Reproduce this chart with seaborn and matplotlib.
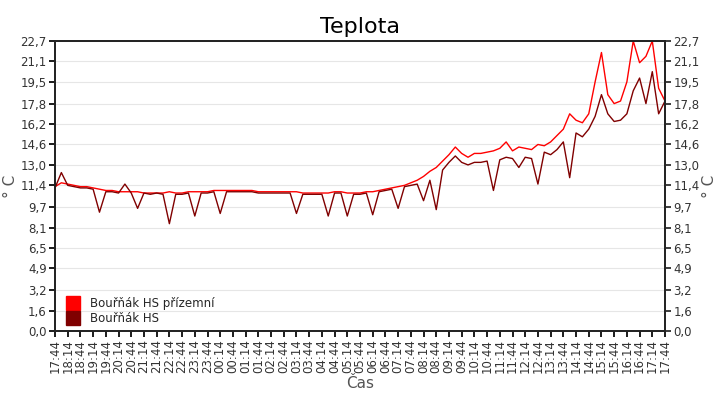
import numpy as np
import pandas as pd
import seaborn as sns
from matplotlib import pyplot as plt
from matplotlib.lines import Line2D

sns.set_theme(style='white', rc={'font.family': 'DejaVu Sans'})

# 15 minute samples starting 17:44
prizemni = [11.3, 11.6, 11.5, 11.4, 11.3,
            11.3, 11.2, 11.1, 11.0, 11.0, 10.9, 10.9,
            10.9, 10.9, 10.8, 10.8, 10.8, 10.8, 10.9, 10.8,
            10.8, 10.9, 10.9, 10.9, 10.9, 11.0, 11.0, 11.0,
            11.0, 11.0, 11.0, 11.0, 10.9, 10.9, 10.9, 10.9,
            10.9, 10.9, 10.9, 10.8, 10.8, 10.8, 10.8, 10.8,
            10.9, 10.9, 10.8, 10.8, 10.8, 10.9, 10.9, 11.0,
            11.1, 11.2, 11.3, 11.4, 11.6, 11.8, 12.1, 12.5,
            12.8, 13.3, 13.8, 14.4, 13.9, 13.6, 13.9, 13.9,
            14.0, 14.1, 14.3, 14.8, 14.1, 14.4, 14.3, 14.2,
            14.6, 14.5, 14.8, 15.3, 15.8, 17.0, 16.5, 16.3,
            17.0, 19.5, 21.8, 18.5, 17.8, 18.0, 19.5, 22.7,
            21.0, 21.5, 22.7, 19.0, 18.0]
hs = [11.2, 12.4, 11.4, 11.3, 11.2,
      11.2, 11.1, 9.3, 10.9, 10.9, 10.8, 11.5,
      10.8, 9.6, 10.8, 10.7, 10.8, 10.7, 8.4, 10.7,
      10.7, 10.8, 9.0, 10.8, 10.8, 10.9, 9.2, 10.9,
      10.9, 10.9, 10.9, 10.9, 10.8, 10.8, 10.8, 10.8,
      10.8, 10.8, 9.2, 10.7, 10.7, 10.7, 10.7, 9.0,
      10.8, 10.8, 9.0, 10.7, 10.7, 10.8, 9.1, 10.9,
      11.0, 11.1, 9.6, 11.3, 11.4, 11.5, 10.2, 11.8,
      9.5, 12.6, 13.2, 13.7, 13.2, 13.0, 13.2, 13.2,
      13.3, 11.0, 13.4, 13.6, 13.5, 12.8, 13.6, 13.5,
      11.5, 14.0, 13.8, 14.2, 14.8, 12.0, 15.5, 15.2,
      15.8, 16.8, 18.5, 17.0, 16.4, 16.5, 17.0, 18.8,
      19.8, 17.8, 20.3, 17.0, 18.0]
times = pd.date_range('2020-01-01 17:44', periods=len(hs), freq='15min')
yticks = [0.0, 1.6, 3.2, 4.9, 6.5, 8.1, 9.7, 11.4, 13.0, 14.6, 16.2, 17.8, 19.5, 21.1, 22.7]

idx = np.arange(len(hs))
df = pd.DataFrame({'t': np.concatenate([idx, idx]),
                   'v': prizemni + hs,
                   's': ['Bouřňák HS přízemní'] * len(idx) + ['Bouřňák HS'] * len(idx)})

fig = plt.figure(figsize=(7.2, 4), dpi=100)
ax = fig.add_axes([55 / 720, 69 / 400, 610 / 720, 290 / 400])
pal = {'Bouřňák HS přízemní': '#ff0000', 'Bouřňák HS': '#800000'}
sns.lineplot(data=df, x='t', y='v', hue='s', palette=pal, ax=ax, lw=1, legend=False)

ax.set_xlim(0, len(idx) - 1)
ax.set_ylim(0, 22.7)
ax.set_yticks(yticks)
labels = [f'{v:.1f}'.replace('.', ',') for v in yticks]
ax.set_yticklabels(labels, fontsize=8.5, color='#333333')
ax.set_xticks(idx[::2])
ax.set_xticklabels([t.strftime('%H:%M') for t in times[::2]], rotation=90, fontsize=8.5, color='#333333')
ax.tick_params(direction='out', length=4, pad=2, color='black', bottom=True, left=True)
ax.grid(axis='y', color='#e6e6e6', lw=0.8)
for s in ax.spines.values():
    s.set_color('black')

ax2 = ax.twinx()
ax2.set_ylim(0, 22.7)
ax2.set_yticks(yticks)
ax2.set_yticklabels(labels, fontsize=8.5, color='#333333')
ax2.tick_params(direction='out', length=4, pad=2, right=True)
ax2.set_ylabel('° C', fontsize=11, color='#555555', labelpad=2)

ax.set_title('Teplota', fontsize=16, color='black')
ax.set_xlabel('Čas', fontsize=11, color='#555555', labelpad=2)
ax.set_ylabel('° C', fontsize=11, color='#555555', labelpad=2)

handles = [Line2D([], [], ls='', marker='s', ms=10, color=c) for c in pal.values()]
ax.legend(handles, list(pal.keys()), loc='lower left', frameon=False, fontsize=8.5,
          handletextpad=0.5, labelspacing=0.2, borderpad=0.3, borderaxespad=0.2)

fig.savefig('out.png', dpi=100)
